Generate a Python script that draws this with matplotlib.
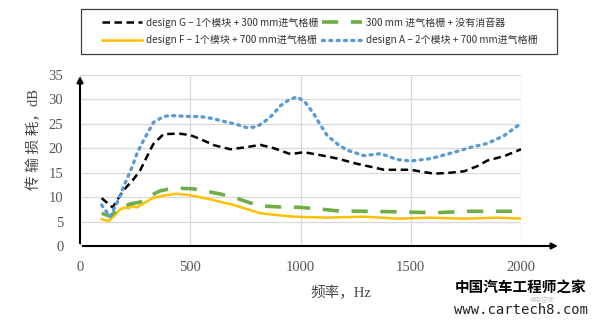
import matplotlib
matplotlib.use("Agg")
import matplotlib.pyplot as plt
from matplotlib.patches import Rectangle

plt.rcParams['font.family'] = ['Noto Sans CJK SC', 'DejaVu Sans']

# design G - black dashed
freq_g = [98, 148, 197, 240, 273, 318, 333, 379, 450, 500, 545, 610, 682, 750, 818, 880, 955, 1015,
          1090, 1167, 1258, 1320, 1379, 1440, 1500, 1550, 1606, 1680, 1742, 1800, 1848, 1924, 2000]
tl_g = [9.8, 7.9, 11.4, 13.5, 15.5, 19.6, 20.9, 22.9, 23.0, 22.7, 21.9, 20.6, 19.8, 20.2, 20.7, 20.0, 18.8, 19.2,
        18.6, 17.9, 16.8, 16.2, 15.6, 15.6, 15.6, 15.2, 14.8, 15.0, 15.3, 16.3, 17.5, 18.4, 19.8]

# 300 mm + no muffler - green long dash
freq_n = [98, 136, 180, 227, 273, 320, 364, 409, 460, 515, 576, 640, 697, 760, 818, 900, 1000,
          1080, 1167, 1288, 1439, 1606, 1758, 1909, 2000]
tl_n = [6.7, 6.1, 7.8, 8.6, 9.0, 10.3, 11.3, 11.7, 11.8, 11.7, 11.2, 10.6, 10.0, 9.0, 8.2, 8.0, 7.9,
        7.6, 7.2, 7.1, 7.0, 6.8, 7.1, 7.1, 7.1]

# design F - yellow solid
freq_f = [98, 129, 159, 182, 205, 220, 235, 258, 288, 333, 348, 390, 439, 500, 576, 640, 697, 760,
          818, 900, 970, 1121, 1288, 1439, 1591, 1742, 1894, 2000]
tl_f = [5.5, 5.1, 6.3, 7.5, 7.9, 7.7, 8.2, 7.9, 8.7, 9.9, 10.0, 10.4, 10.7, 10.4, 9.7, 9.0, 8.4, 7.5,
        6.7, 6.3, 6.0, 5.8, 6.0, 5.6, 5.8, 5.6, 5.8, 5.6]

# design A - blue dotted
freq_a = [98, 136, 167, 197, 235, 258, 288, 333, 379, 409, 500, 545, 600, 652, 710, 758, 800, 833, 870,
          909, 950, 985, 1020, 1061, 1090, 1121, 1170, 1212, 1288, 1364, 1439, 1500, 1591, 1682, 1773,
          1848, 1924, 2000]
tl_a = [8.4, 6.0, 8.7, 12.1, 16.0, 18.9, 21.6, 25.3, 26.5, 26.7, 26.5, 26.5, 26.1, 25.5, 24.9, 24.2, 24.4,
        25.3, 26.7, 28.7, 30.0, 30.5, 29.5, 27.0, 24.8, 22.6, 20.8, 19.6, 18.5, 18.9, 17.7, 17.4, 17.9,
        19.0, 20.2, 21.0, 22.6, 25.1]

labels = ['design G – 1个模块 + 300 mm进气格栅', 'design F – 1个模块 + 700 mm进气格栅',
          '300 mm 进气格栅 + 没有消音器', 'design A – 2个模块 + 700 mm进气格栅']

fig = plt.figure(figsize=(6.0, 3.24), dpi=100)
ax = fig.add_axes([80 / 600, 1 - 246 / 324, 441 / 600, 171 / 324])

l_g, = ax.plot(freq_g, tl_g, color='black', lw=1.8, dashes=(3, 1.8))
l_f, = ax.plot(freq_f, tl_f, color='#FFC000', lw=1.8)
l_n, = ax.plot(freq_n, tl_n, color='#70AD47', lw=2.6, dashes=(4.5, 3.5))
l_a, = ax.plot(freq_a, tl_a, color='#5B9BD5', lw=2.4, dashes=(0.6, 1.6), dash_capstyle='round')

ax.set_xlim(0, 2000)
ax.set_ylim(0, 35)
ax.set_xticks([0, 500, 1000, 1500, 2000])
ax.set_yticks(range(0, 36, 5))
ax.grid(True, color='#d9d9d9', lw=0.9)
ax.set_axisbelow(True)
for s in ['top', 'right', 'left', 'bottom']:
    ax.spines[s].set_visible(False)
ax.tick_params(axis='x', length=0, pad=11, labelsize=10.5, labelcolor='#555555')
ax.tick_params(axis='y', length=0, pad=12, labelsize=10.5, labelcolor='#555555')
for lab in ax.get_xticklabels() + ax.get_yticklabels():
    lab.set_family('Liberation Serif')

# axis lines with arrows
ax.annotate('', xy=(1.09, 0), xytext=(0, 0), xycoords='axes fraction',
            arrowprops=dict(arrowstyle='-|>', color='black', lw=1.5, mutation_scale=9), annotation_clip=False)
ax.annotate('', xy=(0, 1.01), xytext=(0, 0), xycoords='axes fraction',
            arrowprops=dict(arrowstyle='-|>', color='black', lw=1.5, mutation_scale=9), annotation_clip=False)

fig.text(341 / 600, 1 - 293 / 324, '频率，Hz', fontsize=10.5, color='#444444',
         family=['Liberation Serif', 'Noto Sans CJK SC'], ha='center', va='center')
fig.text(34 / 600, 1 - 139 / 324, '传 输 损 耗，dB', fontsize=10.5, color='#444444',
         family=['Liberation Serif', 'Noto Sans CJK SC'], rotation=90, ha='center', va='center')

# legend with a separate frame
fig.add_artist(Rectangle((81 / 600, 1 - 54 / 324), 476 / 600, 45 / 324, transform=fig.transFigure,
                         fill=False, edgecolor='#404040', lw=0.9))
leg = fig.legend([l_g, l_f, l_n, l_a], labels, ncol=2, loc='center left',
                 bbox_to_anchor=(102 / 600, 1 - 31.5 / 324), prop={'size': 7.2},
                 handlelength=4.0, frameon=False, borderaxespad=0, borderpad=0,
                 columnspacing=0.3, handletextpad=0.45, labelspacing=0.75)
for t in leg.get_texts():
    t.set_color('#333333')

# watermark
fig.text(521 / 600, 1 - 288 / 324, '中国汽车工程师之家', fontsize=10.5, fontweight='bold',
         ha='center', va='center', color='black')
fig.text(542 / 600, 1 - 300 / 324, '模态空间', fontsize=4.5, ha='center', va='center', color='#c8c8c8')
fig.text(521 / 600, 1 - 310 / 324, 'www.cartech8.com', fontsize=10, family='DejaVu Sans Mono',
         ha='center', va='center', color='#222222')

fig.savefig('out.png', dpi=100)
